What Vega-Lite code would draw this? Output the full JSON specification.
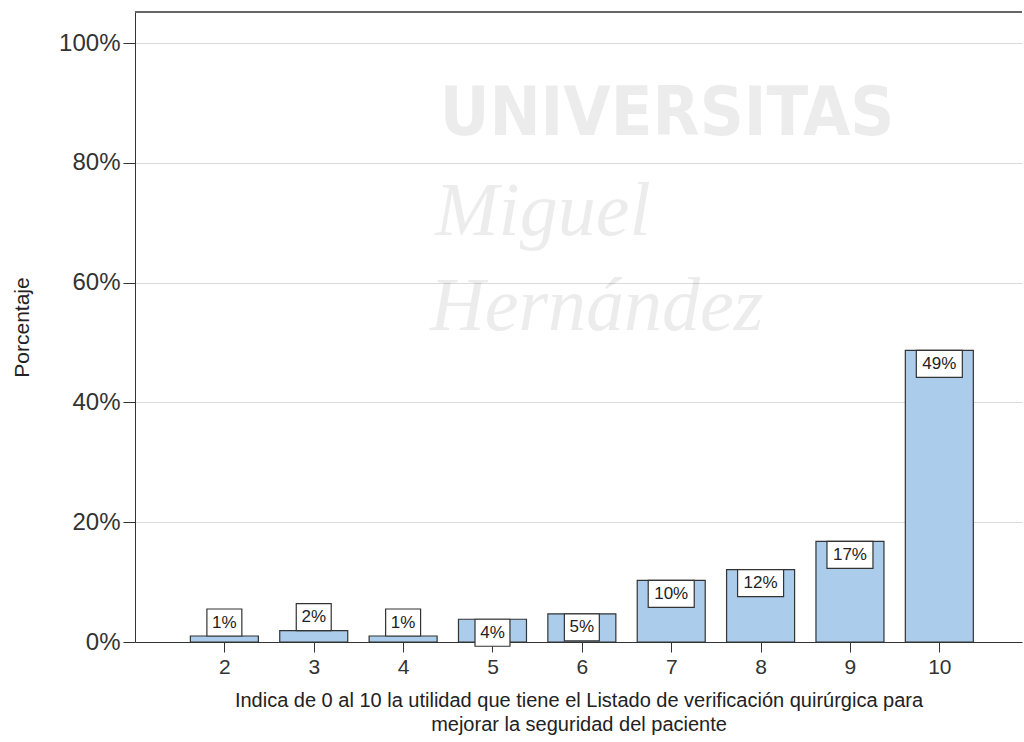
{
  "$schema": "https://vega.github.io/schema/vega-lite/v6.json",
  "width": 887,
  "height": 630,
  "autosize": {"type": "none"},
  "padding": {"left": 135, "top": 12, "right": 2, "bottom": 100},
  "background": "white",
  "config": {
    "view": {"stroke": null},
    "font": "Liberation Sans"
  },
  "datasets": {
    "barras": [
      {"puntuacion": 2, "porcentaje": 1.0, "etiqueta": "1%"},
      {"puntuacion": 3, "porcentaje": 1.9, "etiqueta": "2%"},
      {"puntuacion": 4, "porcentaje": 1.0, "etiqueta": "1%"},
      {"puntuacion": 5, "porcentaje": 3.8, "etiqueta": "4%"},
      {"puntuacion": 6, "porcentaje": 4.7, "etiqueta": "5%"},
      {"puntuacion": 7, "porcentaje": 10.3, "etiqueta": "10%"},
      {"puntuacion": 8, "porcentaje": 12.1, "etiqueta": "12%"},
      {"puntuacion": 9, "porcentaje": 16.8, "etiqueta": "17%"},
      {"puntuacion": 10, "porcentaje": 48.7, "etiqueta": "49%"}
    ],
    "marca": [
      {"puntuacion": 4.41, "porcentaje": 84.6, "texto": "UNIVERSITAS", "estilo": "a"},
      {"puntuacion": 4.36, "porcentaje": 68.0, "texto": "Miguel", "estilo": "b"},
      {"puntuacion": 4.30, "porcentaje": 52.1, "texto": "Hernández", "estilo": "b"}
    ]
  },
  "data": {"name": "barras"},
  "encoding": {
    "x": {
      "field": "puntuacion",
      "type": "quantitative",
      "scale": {"domain": [1, 10.925], "nice": false, "zero": false, "padding": 0},
      "axis": {
        "values": [2, 3, 4, 5, 6, 7, 8, 9, 10],
        "grid": false,
        "title": ["Indica de 0 al 10 la utilidad que tiene el Listado de verificación quirúrgica para", "mejorar la seguridad del paciente"],
        "titleFont": "Liberation Sans",
        "titleFontSize": 20,
        "titleFontWeight": "normal",
        "titleColor": "#222",
        "titleLineHeight": 24,
        "titlePadding": 13,
        "labelFontSize": 21,
        "labelColor": "#333",
        "labelPadding": 4,
        "tickSize": 10,
        "tickColor": "#333",
        "domainColor": "#333",
        "labelFlush": false
      }
    },
    "y": {
      "field": "porcentaje",
      "type": "quantitative",
      "scale": {"domain": [0, 105.2], "nice": false},
      "axis": {
        "values": [0, 20, 40, 60, 80, 100],
        "labelExpr": "datum.value + '%'",
        "title": "Porcentaje",
        "titleFont": "Liberation Sans",
        "titleFontSize": 21,
        "titleFontWeight": "normal",
        "titleColor": "#222",
        "titlePadding": 26,
        "labelFontSize": 24,
        "labelColor": "#333",
        "labelPadding": 3,
        "tickSize": 12,
        "tickColor": "#333",
        "domainColor": "#333",
        "gridColor": "#dadada",
        "gridWidth": 1
      }
    }
  },
  "layer": [
    {
      "data": {"name": "marca"},
      "transform": [{"filter": "datum.estilo == 'a'"}],
      "mark": {"type": "text", "align": "left", "baseline": "alphabetic", "font": "DejaVu Sans Condensed", "fontWeight": "bold", "fontSize": 68, "color": "#000", "opacity": 0.07},
      "encoding": {"text": {"field": "texto"}}
    },
    {
      "data": {"name": "marca"},
      "transform": [{"filter": "datum.estilo == 'b'"}],
      "mark": {"type": "text", "align": "left", "baseline": "alphabetic", "font": "Liberation Serif", "fontStyle": "italic", "fontSize": 76, "color": "#000", "opacity": 0.07},
      "encoding": {"text": {"field": "texto"}}
    },
    {
      "mark": {"type": "rule", "color": "#666", "strokeWidth": 1.5},
      "encoding": {"y": {"datum": 105.2}, "x": {"datum": 1}, "x2": {"datum": 10.925}}
    },
    {
      "mark": {"type": "bar", "size": 68, "color": "#abcdeb", "stroke": "#333", "strokeWidth": 1.2}
    },
    {
      "transform": [{"filter": "datum.porcentaje < 3"}],
      "mark": {"type": "point", "filled": true, "fill": "white", "stroke": "#333", "strokeWidth": 1.2, "opacity": 1, "size": 2116, "yOffset": -13.5},
      "encoding": {
        "shape": {
          "field": "puntuacion", "type": "nominal", "legend": null,
          "scale": {"domain": [2, 3, 4, 5, 6, 7, 8, 9, 10],
            "range": ["M-0.76,-0.587H0.76V0.587H-0.76Z", "M-0.76,-0.587H0.76V0.587H-0.76Z", "M-0.76,-0.587H0.76V0.587H-0.76Z", "M-0.76,-0.587H0.76V0.587H-0.76Z", "M-0.76,-0.587H0.76V0.587H-0.76Z", "M-1,-0.587H1V0.587H-1Z", "M-1,-0.587H1V0.587H-1Z", "M-1,-0.587H1V0.587H-1Z", "M-1,-0.587H1V0.587H-1Z"]}
        }
      }
    },
    {
      "transform": [{"filter": "datum.porcentaje >= 3"}],
      "mark": {"type": "point", "filled": true, "fill": "white", "stroke": "#333", "strokeWidth": 1.2, "opacity": 1, "size": 2116, "yOffset": 13.5},
      "encoding": {
        "shape": {
          "field": "puntuacion", "type": "nominal", "legend": null,
          "scale": {"domain": [2, 3, 4, 5, 6, 7, 8, 9, 10],
            "range": ["M-0.76,-0.587H0.76V0.587H-0.76Z", "M-0.76,-0.587H0.76V0.587H-0.76Z", "M-0.76,-0.587H0.76V0.587H-0.76Z", "M-0.76,-0.587H0.76V0.587H-0.76Z", "M-0.76,-0.587H0.76V0.587H-0.76Z", "M-1,-0.587H1V0.587H-1Z", "M-1,-0.587H1V0.587H-1Z", "M-1,-0.587H1V0.587H-1Z", "M-1,-0.587H1V0.587H-1Z"]}
        }
      }
    },
    {
      "transform": [{"filter": "datum.porcentaje < 3"}],
      "mark": {"type": "text", "fontSize": 17, "color": "#222", "baseline": "middle", "align": "center", "yOffset": -13.5},
      "encoding": {"text": {"field": "etiqueta"}}
    },
    {
      "transform": [{"filter": "datum.porcentaje >= 3"}],
      "mark": {"type": "text", "fontSize": 17, "color": "#222", "baseline": "middle", "align": "center", "yOffset": 13.5},
      "encoding": {"text": {"field": "etiqueta"}}
    }
  ]
}
